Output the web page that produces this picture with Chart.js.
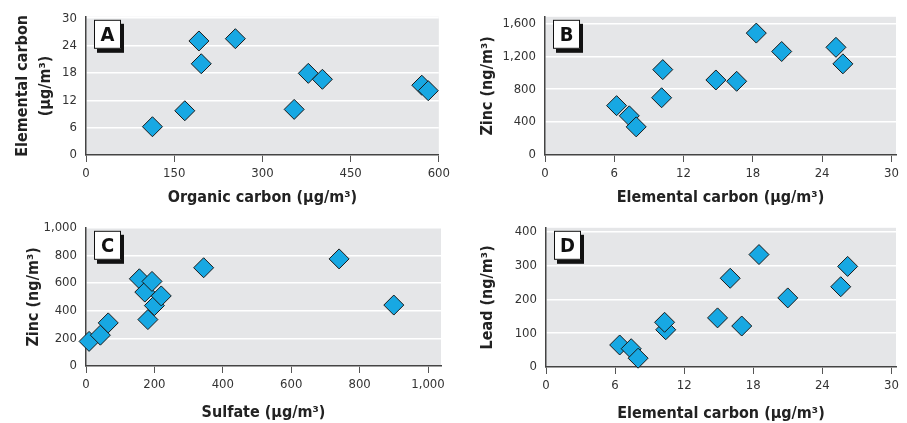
<!DOCTYPE html>
<html>
<head>
<meta charset="utf-8">
<script src="https://cdn.jsdelivr.net/npm/chart.js@4.4.1/dist/chart.umd.min.js"></script>
<style>
  body { margin: 0; background: #ffffff; }
  .panel { position: absolute; }
</style>
</head>
<body>
<div class="panel" style="left:0;top:0;width:454px;height:211px"><canvas id="chartA"></canvas></div>
<div class="panel" style="left:454px;top:0;width:453px;height:211px"><canvas id="chartB"></canvas></div>
<div class="panel" style="left:0;top:211px;width:454px;height:212px"><canvas id="chartC"></canvas></div>
<div class="panel" style="left:454px;top:211px;width:453px;height:212px"><canvas id="chartD"></canvas></div>
<script>
// Panel A: elemental vs organic carbon
const organicCarbonA = [113, 168, 192, 196, 254, 354, 378, 402, 571, 582];
const elementalCarbonA = [6.2, 9.7, 25.0, 20.0, 25.5, 10.0, 17.9, 16.6, 15.3, 14.1];
const xTicksA = [0, 150, 300, 450, 600];
const yTicksA = [0, 6, 12, 18, 24, 30];

// Panel B: zinc vs elemental carbon
const elementalCarbonB = [6.2, 7.3, 7.9, 10.1, 10.2, 14.8, 16.6, 18.3, 20.5, 25.2, 25.8];
const zincB = [600, 476, 342, 696, 1038, 912, 896, 1482, 1258, 1309, 1108];
const xTicksB = [0, 6, 12, 18, 24, 30];
const yTicksB = [0, 400, 800, 1200, 1600];

// Panel C: zinc vs sulfate
const sulfateC = [9, 42, 65, 156, 172, 181, 193, 200, 220, 344, 740, 900];
const zincC = [178, 223, 312, 631, 535, 336, 612, 437, 507, 711, 775, 441];
const xTicksC = [0, 200, 400, 600, 800, 1000];
const yTicksC = [0, 200, 400, 600, 800, 1000];

// Panel D: lead vs elemental carbon
const elementalCarbonD = [6.4, 7.4, 8.0, 10.4, 10.3, 14.9, 16.0, 17.0, 18.5, 21.0, 25.6, 26.2];
const leadD = [65, 54, 26, 110, 132, 145, 262, 121, 332, 204, 237, 297];
const xTicksD = [0, 6, 12, 18, 24, 30];
const yTicksD = [0, 100, 200, 300, 400];

const FONT = "'Liberation Sans Narrow', 'DejaVu Sans Condensed', 'Liberation Sans', sans-serif";

// gray plot background + boxed panel letter
const panelDecor = {
    id: 'panelDecor',
    beforeDraw: function(chart) {
        const a = chart.chartArea;
        const ctx = chart.ctx;
        ctx.save();
        ctx.fillStyle = '#e5e6e8';
        ctx.fillRect(a.left, a.top, a.right - a.left, a.bottom - a.top);
        ctx.restore();
    },
    afterDraw: function(chart, args, opts) {
        const a = chart.chartArea;
        const ctx = chart.ctx;
        const x = a.left + 8, y = a.top + 3, w = 27, h = 29;
        ctx.save();
        ctx.fillStyle = '#111';
        ctx.fillRect(x + 3, y + 4, w, h);
        ctx.fillStyle = '#fff';
        ctx.fillRect(x, y, w, h);
        ctx.strokeStyle = '#111';
        ctx.lineWidth = 1;
        ctx.strokeRect(x + 0.5, y + 0.5, w - 1, h - 1);
        ctx.fillStyle = '#111';
        ctx.font = 'bold 20px ' + FONT;
        ctx.textAlign = 'center';
        ctx.textBaseline = 'middle';
        ctx.fillText(opts.letter, x + w / 2, y + h / 2 + 1);
        ctx.restore();
    }
};

function makePanel(id, p) {
    const pts = p.xs.map((x, i) => ({x: x, y: p.ys[i]}));
    return new Chart(document.getElementById(id), {
        type: 'scatter',
        data: {
            datasets: [{
                data: pts,
                pointStyle: 'rectRot',
                pointRadius: 10,
                pointHoverRadius: 10,
                pointBorderWidth: 1,
                borderColor: '#1a1a1a',
                backgroundColor: '#17a8e3',
                clip: false
            }]
        },
        options: {
            responsive: true,
            maintainAspectRatio: false,
            animation: false,
            events: [],
            layout: { padding: { top: p.padTop, right: p.padRight, left: 0, bottom: 0 } },
            plugins: {
                legend: { display: false },
                tooltip: { enabled: false },
                panelDecor: { letter: p.letter }
            },
            scales: {
                x: {
                    type: 'linear',
                    min: 0,
                    max: p.xMax,
                    afterBuildTicks: s => { s.ticks = p.xTicks.map(v => ({value: v})); },
                    afterFit: s => { s.height = p.xHeight; },
                    border: { display: true, color: '#444', width: 1.5 },
                    grid: { drawOnChartArea: false, drawTicks: true, tickLength: 7, color: '#555', lineWidth: 1 },
                    ticks: {
                        padding: 4,
                        color: '#333',
                        font: { family: FONT, size: 13 },
                        callback: v => v.toLocaleString('en-US')
                    },
                    title: {
                        display: true,
                        text: p.xTitle,
                        color: '#222',
                        padding: { top: 0, bottom: p.xTitlePad },
                        font: { family: FONT, size: 16, weight: 'bold', lineHeight: 1.4 }
                    }
                },
                y: {
                    type: 'linear',
                    min: 0,
                    max: p.yMax,
                    afterBuildTicks: s => { s.ticks = p.yTicks.map(v => ({value: v})); },
                    afterFit: s => { s.width = p.yWidth; },
                    border: { display: true, color: '#444', width: 1.5 },
                    grid: { drawOnChartArea: true, drawTicks: false, color: '#ffffff', lineWidth: 1.5 },
                    ticks: {
                        padding: 9,
                        color: '#333',
                        font: { family: FONT, size: 13 },
                        callback: v => v.toLocaleString('en-US')
                    },
                    title: {
                        display: true,
                        text: p.yTitle,
                        color: '#222',
                        padding: { top: p.yTitlePad, bottom: 0 },
                        font: { family: FONT, size: 16, weight: 'bold', lineHeight: 1.4 }
                    }
                }
            }
        },
        plugins: [panelDecor]
    });
}

makePanel('chartA', {
    letter: 'A', xs: organicCarbonA, ys: elementalCarbonA,
    xMax: 600, yMax: 30.3, xTicks: xTicksA, yTicks: yTicksA,
    xTitle: 'Organic carbon (\u00b5g/m\u00b3)', yTitle: ['Elemental carbon', '(\u00b5g/m\u00b3)'],
    padTop: 16, padRight: 13, yWidth: 86, xHeight: 56, xTitlePad: 2.3, yTitlePad: 11.8
});
makePanel('chartB', {
    letter: 'B', xs: elementalCarbonB, ys: zincB,
    xMax: 30.4, yMax: 1680, xTicks: xTicksB, yTicks: yTicksB,
    xTitle: 'Elemental carbon (\u00b5g/m\u00b3)', yTitle: 'Zinc (ng/m\u00b3)',
    padTop: 16, padRight: 8, yWidth: 91, xHeight: 56, xTitlePad: 2.3, yTitlePad: 22.3
});
makePanel('chartC', {
    letter: 'C', xs: sulfateC, ys: zincC,
    xMax: 1038, yMax: 1000, xTicks: xTicksC, yTicks: yTicksC,
    xTitle: 'Sulfate (\u00b5g/m\u00b3)', yTitle: 'Zinc (ng/m\u00b3)',
    padTop: 13, padRight: 13, yWidth: 86, xHeight: 57, xTitlePad: -0.7, yTitlePad: 22.3
});
makePanel('chartD', {
    letter: 'D', xs: elementalCarbonD, ys: leadD,
    xMax: 30.4, yMax: 411, xTicks: xTicksD, yTicks: yTicksD,
    xTitle: 'Elemental carbon (\u00b5g/m\u00b3)', yTitle: 'Lead (ng/m\u00b3)',
    padTop: 13, padRight: 8, yWidth: 92, xHeight: 56, xTitlePad: -2, yTitlePad: 22.8
});
</script>
</body>
</html>
